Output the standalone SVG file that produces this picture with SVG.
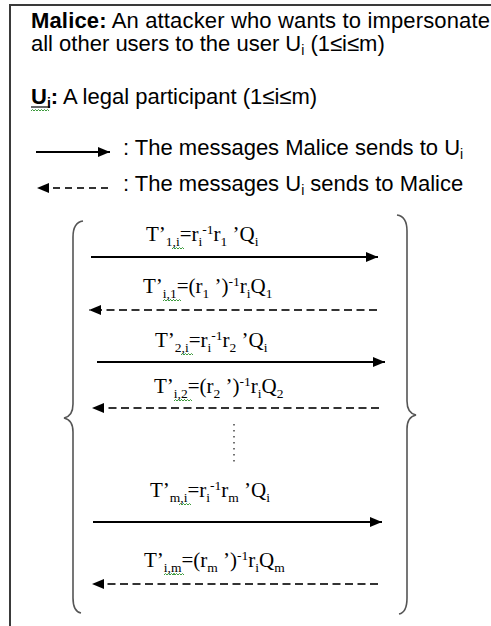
<svg xmlns="http://www.w3.org/2000/svg" width="491" height="626" viewBox="0 0 491 626">
<style>
.hd{font-family:"Liberation Sans",Arial,sans-serif;font-size:22px;fill:#000}
.sb{font-size:14px}
.lab{font-family:"Liberation Serif","Times New Roman",serif;font-size:21px;fill:#000}
.s{font-size:13.5px}
.frame{fill:none;stroke:#3a3a3a;stroke-width:2}
.brace{fill:none;stroke:#555;stroke-width:1.6}
.solid{stroke:#000;stroke-width:2;fill:none}
.dash{stroke:#333;stroke-width:2;fill:none;stroke-dasharray:8 4.5}
.sq{fill:none;stroke:#3c9a3c;stroke-width:1}
</style>
<defs>
<marker id="ah" viewBox="0 0 12 10" refX="12" refY="5" markerWidth="12" markerHeight="10" markerUnits="userSpaceOnUse" orient="auto">
<path d="M0,0 L12,5 L0,10 Z" fill="#000" stroke="none"/>
</marker>
<path id="wv" d="M0,0 l1.5,-1.5 l1.5,1.5 l1.5,-1.5 l1.5,1.5 l1.5,-1.5 l1.5,1.5 l1.5,-1.5 l1.5,1.5"/>
</defs>
<rect width="491" height="626" fill="#fff"/>
<g id="frame">
<path class="frame" d="M10,626 V5 H491"/>
</g>
<g id="header">
<text class="hd" x="31" y="28" textLength="459" lengthAdjust="spacing"><tspan font-weight="bold">Malice:</tspan> An attacker who wants to impersonate</text>
<text class="hd" x="31" y="51">all other users to the user U<tspan class="sb" dy="4">i</tspan><tspan dy="-4"> (1≤i≤m)</tspan></text>
<text class="hd" x="31" y="104"><tspan font-weight="bold">U</tspan><tspan class="sb" font-weight="bold" dy="4">i</tspan><tspan font-weight="bold" dy="-4">:</tspan> A legal participant (1≤i≤m)</text>
<line x1="31" y1="107" x2="50" y2="107" stroke="#000" stroke-width="1.2"/>
<path class="sq" d="M31,111 l1.5,-1.5 l1.5,1.5 l1.5,-1.5 l1.5,1.5 l1.5,-1.5 l1.5,1.5 l1.5,-1.5 l1.5,1.5 l1.5,-1.5 l1.5,1.5 l1.5,-1.5 l1.5,1.5"/>
</g>
<g id="legend">
<line class="solid" x1="36" y1="152" x2="110" y2="152" marker-end="url(#ah)"/>
<text class="hd" x="123" y="155">: The messages Malice sends to U<tspan class="sb" dy="4">i</tspan></text>
<line class="dash" x1="108" y1="188" x2="37" y2="188" style="stroke-dasharray:7 5" marker-end="url(#ah)"/>
<text class="hd" x="123" y="191">: The messages U<tspan class="sb" dy="4">i</tspan><tspan dy="-4"> sends to Malice</tspan></text>
</g>
<g id="bracket-left">
<path class="brace" d="M83,221 C76,222 73,227 73,237 L73,404 C73,413 69,417 64,418 C69,419 73,423 73,432 L73,598 C73,608 76,612 81,613"/>
</g>
<g id="bracket-right">
<path class="brace" d="M397,215 C404,216 407,221 407,231 L407,401 C407,410 411,414 416,415 C411,416 407,420 407,429 L407,598 C407,608 404,613 399,614"/>
</g>
<g id="connectors">
<line class="solid" x1="91" y1="257" x2="378" y2="257" marker-end="url(#ah)"/>
<line class="dash" x1="377" y1="310" x2="89" y2="310" marker-end="url(#ah)"/>
<line class="solid" x1="97" y1="362" x2="385" y2="362" marker-end="url(#ah)"/>
<line class="dash" x1="379" y1="408" x2="92" y2="408" marker-end="url(#ah)"/>
<line x1="234" y1="424" x2="234" y2="462" stroke="#444" stroke-width="1.5" stroke-dasharray="1.5 4.5"/>
<line class="solid" x1="93" y1="522" x2="382" y2="522" marker-end="url(#ah)"/>
<line class="dash" x1="378" y1="584" x2="92" y2="584" marker-end="url(#ah)"/>
</g>
<g id="msg1">
<text class="lab" x="146" y="241">T’<tspan class="s" dy="5">1,i</tspan><tspan dy="-5">=r</tspan><tspan class="s" dy="5">i</tspan><tspan class="s" dy="-12">-1</tspan><tspan dy="7">r</tspan><tspan class="s" dy="5">1</tspan><tspan dy="-5"> ’Q</tspan><tspan class="s" dy="5">i</tspan></text>
<use href="#wv" class="sq" x="172" y="249"/>
</g>
<g id="msg2">
<text class="lab" x="143" y="293">T’<tspan class="s" dy="5">i,1</tspan><tspan dy="-5">=(r</tspan><tspan class="s" dy="5">1</tspan><tspan dy="-5"> ’)</tspan><tspan class="s" dy="-7">-1</tspan><tspan dy="7">r</tspan><tspan class="s" dy="5">i</tspan><tspan dy="-5">Q</tspan><tspan class="s" dy="5">1</tspan></text>
<use href="#wv" class="sq" x="163" y="301"/><use href="#wv" class="sq" x="169" y="301"/>
</g>
<g id="msg3">
<text class="lab" x="155" y="347">T’<tspan class="s" dy="5">2,i</tspan><tspan dy="-5">=r</tspan><tspan class="s" dy="5">i</tspan><tspan class="s" dy="-12">-1</tspan><tspan dy="7">r</tspan><tspan class="s" dy="5">2</tspan><tspan dy="-5"> ’Q</tspan><tspan class="s" dy="5">i</tspan></text>
<use href="#wv" class="sq" x="181" y="355"/>
</g>
<g id="msg4">
<text class="lab" x="154" y="393">T’<tspan class="s" dy="5">i,2</tspan><tspan dy="-5">=(r</tspan><tspan class="s" dy="5">2</tspan><tspan dy="-5"> ’)</tspan><tspan class="s" dy="-7">-1</tspan><tspan dy="7">r</tspan><tspan class="s" dy="5">i</tspan><tspan dy="-5">Q</tspan><tspan class="s" dy="5">2</tspan></text>
<use href="#wv" class="sq" x="174" y="401"/><use href="#wv" class="sq" x="180" y="401"/>
</g>
<g id="msg5">
<text class="lab" x="150" y="497">T’<tspan class="s" dy="5">m,i</tspan><tspan dy="-5">=r</tspan><tspan class="s" dy="5">i</tspan><tspan class="s" dy="-12">-1</tspan><tspan dy="7">r</tspan><tspan class="s" dy="5">m</tspan><tspan dy="-5"> ’Q</tspan><tspan class="s" dy="5">i</tspan></text>
<use href="#wv" class="sq" x="179" y="505"/>
</g>
<g id="msg6">
<text class="lab" x="144" y="567">T’<tspan class="s" dy="5">i,m</tspan><tspan dy="-5">=(r</tspan><tspan class="s" dy="5">m</tspan><tspan dy="-5"> ’)</tspan><tspan class="s" dy="-7">-1</tspan><tspan dy="7">r</tspan><tspan class="s" dy="5">i</tspan><tspan dy="-5">Q</tspan><tspan class="s" dy="5">m</tspan></text>
<use href="#wv" class="sq" x="164" y="575"/><use href="#wv" class="sq" x="172" y="575"/>
</g>
</svg>
